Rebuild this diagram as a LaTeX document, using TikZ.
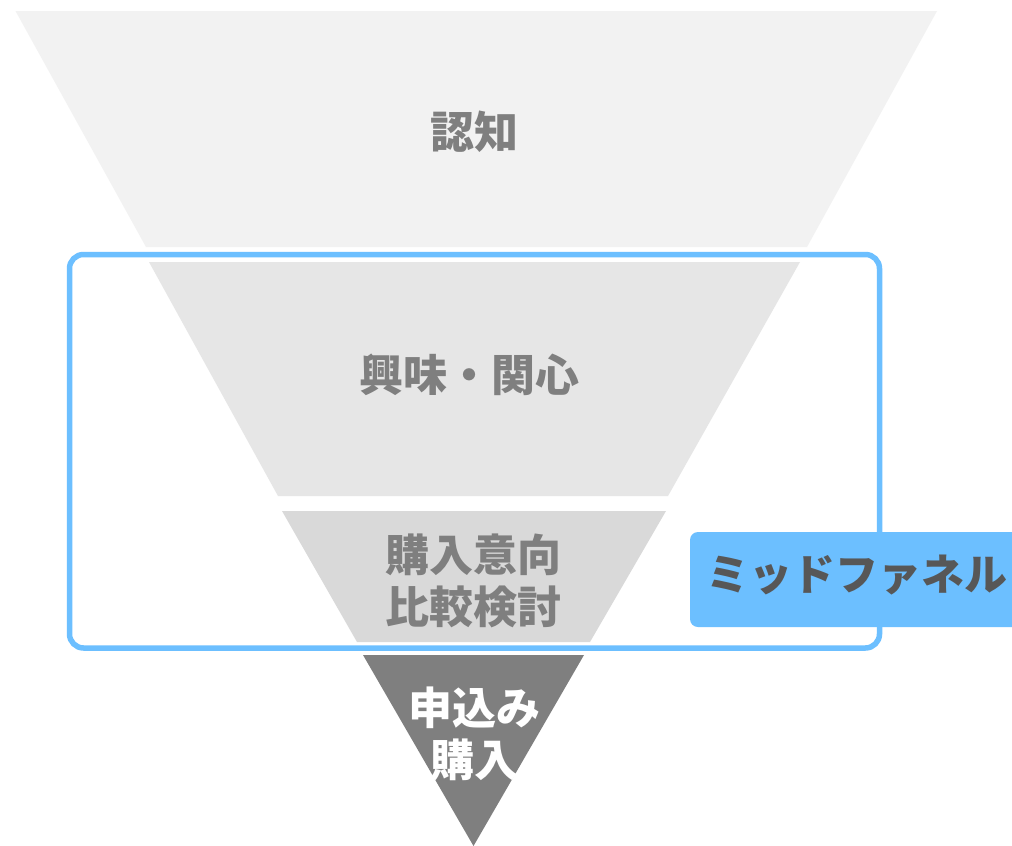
\documentclass[tikz,border=0pt]{standalone}
\usepackage{fontspec}
\newfontfamily\jp{Noto Sans CJK JP}
\definecolor{lvA}{HTML}{F2F2F2}
\definecolor{lvB}{HTML}{E6E6E6}
\definecolor{lvC}{HTML}{D9D9D9}
\definecolor{lvD}{HTML}{7F7F7F}
\definecolor{txtgrey}{HTML}{7F7F7F}
\definecolor{skyblue}{HTML}{6CBFFF}
\definecolor{labeltxt}{HTML}{575757}
\begin{document}
\begin{tikzpicture}[x=1pt,y=-1pt,
  stage/.style={font=\jp\bfseries\fontsize{44}{52}\selectfont, text=txtgrey, align=center, inner sep=0pt},
  frame/.style={draw=skyblue, line width=5.5pt, rounded corners=14pt},
  tag/.style={fill=skyblue, rounded corners=8pt}]
\useasboundingbox (0,0) rectangle (1012,846);
\fill[white] (0,0) rectangle (1012,846);
% funnel levels
\fill[lvA] (15.5,11) -- (937,11) -- (807,247) -- (146,247) -- cycle;
\fill[lvB] (149,262) -- (800,262) -- (668,496) -- (278,496) -- cycle;
\fill[lvC] (282,511) -- (666,511) -- (590,642) -- (357,642) -- cycle;
\fill[lvD] (363,655) -- (584,655) -- (473.5,846) -- cycle;
% labels
\node[stage] (aware) at (474,132) {認知};
\node[stage] (interest) at (469,375) {興味・関心};
\node[stage] (consider) at (473,581) {購入意向\\比較検討};
\node[stage, text=white] (buy) at (474,734) {申込み\\購入};
% mid funnel frame
\draw[frame] (69.5,254.5) rectangle (879.5,648);
\fill[tag] (690,532) rectangle (1030,627);
\node[font=\jp\bfseries\fontsize{43}{50}\selectfont, text=labeltxt, inner sep=0pt] (mid) at (857,575) {ミッドファネル};
\end{tikzpicture}
\end{document}
